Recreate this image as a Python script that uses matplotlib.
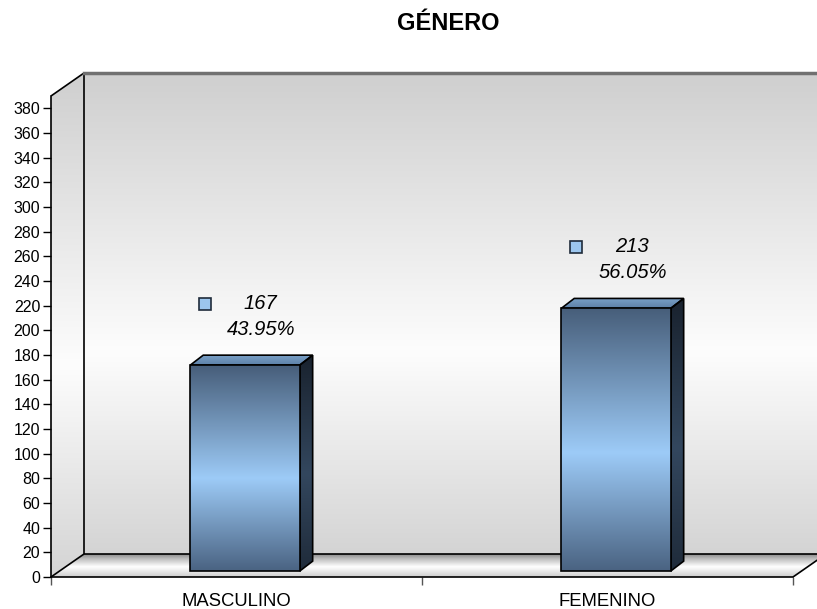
import numpy as np
import matplotlib.pyplot as plt
from matplotlib.colors import LinearSegmentedColormap
from matplotlib.patches import Polygon
from matplotlib.transforms import ScaledTranslation

categorias = ['MASCULINO', 'FEMENINO']
cantidades = [167, 213]
ticks_y = list(range(0, 381, 20))

total = sum(cantidades)
porcentajes = [100 * c / total for c in cantidades]

plt.rcParams['font.family'] = ['Liberation Sans', 'DejaVu Sans']

W, H = 817, 609
fig = plt.figure(figsize=(W / 100, H / 100), dpi=100)

# front plane in pixels, plus depth of the 3D box
x0, x1 = 51, 793
y0, ytop = 577, 96
ymax = 390
dx_px, dy_px = 33, 23
sx = (x1 - x0) / 2
sy = (y0 - ytop) / ymax
DX = dx_px / sx
DY = dy_px / sy

ax = fig.add_axes([x0 / W, (H - y0) / H, (x1 + dx_px - x0) / W, (y0 - ytop + dy_px) / H])
ax.patch.set_visible(False)


def cara(verts, stops, z, ec='none', lw=1.2):
    verts = np.asarray(verts, dtype=float)
    cmap = LinearSegmentedColormap.from_list('g', stops)
    grad = np.linspace(0, 1, 256).reshape(-1, 1)
    ext = (verts[:, 0].min(), verts[:, 0].max(), verts[:, 1].min(), verts[:, 1].max())
    im = ax.imshow(grad, cmap=cmap, extent=ext, origin='lower', aspect='auto',
                   interpolation='bilinear', zorder=z)
    poly = Polygon(verts, closed=True, facecolor='none', edgecolor=ec, lw=lw,
                   zorder=z + 0.1, joinstyle='miter')
    ax.add_patch(poly)
    im.set_clip_path(poly)


pared = [(0, '#d4d4d4'), (0.42, '#fdfdfd'), (1, '#cfcfcf')]
# back wall
cara([(-0.5 + DX, DY), (1.5 + DX, DY), (1.5 + DX, ymax + DY), (-0.5 + DX, ymax + DY)], pared, 1)
# left wall
cara([(-0.5, 0), (-0.5 + DX, DY), (-0.5 + DX, ymax + DY), (-0.5, ymax)], pared, 1)
# floor
cara([(-0.5, 0), (1.5, 0), (1.5 + DX, DY), (-0.5 + DX, DY)],
     [(0, '#cdcdcd'), (0.45, '#ffffff'), (0.8, '#bdbdbd'), (1, '#8a8a8a')], 1)

k = dict(color='black', lw=1.2, zorder=2, solid_capstyle='butt')
ax.plot([-0.5 + DX, -0.5 + DX], [DY, ymax + DY], **k)
ax.plot([-0.5, -0.5 + DX], [ymax, ymax + DY], **k)
ax.plot([-0.5 + DX, 1.5 + DX], [DY, DY], **k)
ax.plot([-0.5, -0.5 + DX], [0, DY], **k)
ax.plot([1.5, 1.5 + DX], [0, DY], **k)
ax.plot([-0.5 + DX, 1.5 + DX], [ymax + DY, ymax + DY], color='#707070', lw=2.5,
        zorder=2, clip_on=False)

# bars as boxes
bw = 0.295
f0 = 0.26
fx, fy = 0.39 * DX, 0.43 * DY
frente = [(0, '#4a6382'), (0.45, '#9dcbf7'), (1, '#475e7a')]
tapa = [(0, '#5d81a8'), (1, '#7aa0c7')]
lado = [(0, '#1f2b3a'), (0.45, '#33475e'), (1, '#19222e')]

for i, v in enumerate(cantidades):
    xl = i - bw / 2 + f0 * DX
    xr = i + bw / 2 + f0 * DX
    yb = f0 * DY
    yt = yb + v
    cara([(xr, yb), (xr + fx, yb + fy), (xr + fx, yt + fy), (xr, yt)], lado, 3, ec='black')
    cara([(xl, yt), (xr, yt), (xr + fx, yt + fy), (xl + fx, yt + fy)], tapa, 3, ec='black')
    cara([(xl, yb), (xr, yb), (xr, yt), (xl, yt)], frente, 3.5, ec='black')

    xc = (xl + xr) / 2
    ax.annotate(f'{v}', (xc, yt), xytext=(11.2, 44.3), textcoords='offset points',
                ha='center', va='center', fontsize=14.5, fontstyle='italic', zorder=5)
    ax.annotate(f'{porcentajes[i]:.2f}%', (xc, yt), xytext=(11.9, 25.6),
                textcoords='offset points', ha='center', va='center', fontsize=14.5,
                fontstyle='italic', zorder=5)
    off = ScaledTranslation(-0.40, 0.61, fig.dpi_scale_trans)
    ax.plot([xc], [yt], marker='s', ms=9, mfc='#9cc6ee', mec='#1f2b3a', mew=1.2,
            transform=ax.transData + off, zorder=5, clip_on=False)

ax.set_xlim(-0.5, 1.5 + DX)
ax.set_ylim(0, ymax + DY)

for s in ['top', 'right']:
    ax.spines[s].set_visible(False)
ax.spines['left'].set_bounds(0, ymax)
ax.spines['bottom'].set_bounds(-0.5, 1.5)
for s in ['left', 'bottom']:
    ax.spines[s].set_linewidth(1.2)
    ax.spines[s].set_zorder(6)

ax.set_yticks(ticks_y)
ax.tick_params(axis='y', length=5.8, width=1, pad=2, labelsize=11.5)
ax.set_xticks([0, 1], categorias)
ax.set_xticks([-0.5, 0.5, 1.5], minor=True)
ax.tick_params(axis='x', which='major', length=0, pad=11.5, labelsize=13.3)
ax.tick_params(axis='x', which='minor', length=5.8, width=1, color='#555555')

fig.text(448 / W, 1 - 24 / H, 'GÉNERO', ha='center', va='center', fontsize=17,
         fontweight='bold')

fig.savefig('out.png', dpi=100)
